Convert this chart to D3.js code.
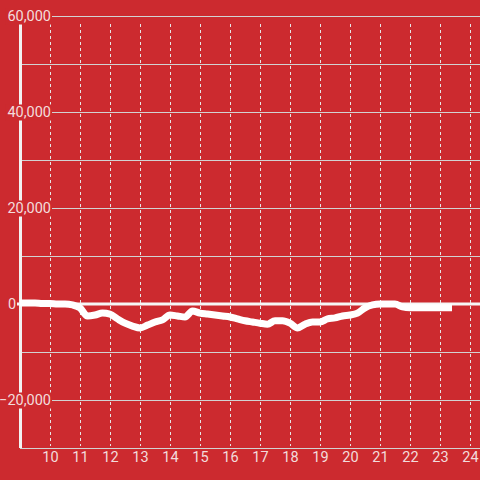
<!DOCTYPE html>
<html>
<head>
<meta charset="utf-8">
<script src="https://cdn.jsdelivr.net/npm/d3@7"></script>
<style>
html,body{margin:0;padding:0;background:#cc2a2f;}
svg{display:block;font-family:Roboto,"Liberation Sans",sans-serif;}
</style>
</head>
<body>
<svg id="chart" width="480" height="480"></svg>
<script>
const hours = [9,9.25,9.5,9.75,10,10.25,10.5,10.75,11,11.25,11.5,11.75,12,12.25,12.5,12.75,13,13.25,13.5,13.75,14,14.25,14.5,14.75,15,15.25,15.5,15.75,16,16.25,16.5,16.75,17,17.25,17.5,17.75,18,18.25,18.5,18.75,19,19.25,19.5,19.75,20,20.25,20.5,20.75,21,21.25,21.5,21.75,22,22.25,22.5,22.75,23,23.25,23.4];
const values = [200,200,200,100,100,0,0,-200,-800,-2500,-2300,-1900,-2100,-3100,-4000,-4600,-5000,-4400,-3750,-3300,-2300,-2500,-2700,-1450,-1900,-2100,-2300,-2500,-2700,-3100,-3500,-3750,-4000,-4200,-3500,-3500,-4000,-5000,-4200,-3750,-3750,-3100,-2900,-2500,-2300,-1900,-800,-200,0,0,0,-600,-800,-800,-800,-800,-800,-800,-800];
const xTicks = [10,11,12,13,14,15,16,17,18,19,20,21,22,23,24];
const yTicks = [-20000,0,20000,40000,60000];
const yGrid = [-30000,-20000,-10000,0,10000,20000,30000,40000,50000,60000];

const svg = d3.select("#chart");
const W = 480, H = 480;
svg.append("rect").attr("width",W).attr("height",H).attr("fill","#cc2a2f");

const x = d3.scaleLinear().domain([9,24]).range([20,470]);
const y = d3.scaleLinear().domain([-30000,60000]).range([448,16]);

// horizontal grid
svg.append("g").selectAll("line").data(yGrid).join("line")
  .attr("x1",20).attr("x2",W)
  .attr("y1",d=>y(d)+0.5).attr("y2",d=>y(d)+0.5)
  .attr("stroke","#d2d2d2").attr("stroke-width",1);

// vertical dashed grid
svg.append("g").selectAll("line").data(xTicks).join("line")
  .attr("x1",d=>x(d)+0.5).attr("x2",d=>x(d)+0.5)
  .attr("y1",24).attr("y2",446)
  .attr("stroke","#e6e6e6").attr("stroke-width",1).attr("stroke-dasharray","3,3");

// y axis line
svg.append("line").attr("x1",20.5).attr("x2",20.5).attr("y1",24).attr("y2",448)
  .attr("stroke","#f2f2f2").attr("stroke-width",3);

// zero line
svg.append("line").attr("x1",17).attr("x2",W).attr("y1",y(0)).attr("y2",y(0))
  .attr("stroke","#f6f6f6").attr("stroke-width",3);

// data line
const line = d3.line().x((d,i)=>x(hours[i])).y(d=>y(d)).curve(d3.curveMonotoneX);
svg.append("path").datum(values).attr("d",line)
  .attr("fill","none").attr("stroke","#ffffff").attr("stroke-width",7)
  .attr("stroke-linejoin","round").attr("stroke-linecap","butt");

// y axis labels
const yAxis = d3.axisLeft(y).tickValues(yTicks).tickSize(0).tickPadding(0)
  .tickFormat(d3.format(","));
const gy = svg.append("g").attr("transform","translate(52,0)").call(yAxis);
gy.select(".domain").remove();
gy.selectAll(".tick").each(function(d){
  const t = d3.select(this);
  const txt = t.select("text");
  txt.attr("fill","#f3dcdc").attr("font-size",14.5).attr("font-family","Roboto, sans-serif");
  if (d === 0) {
    txt.attr("text-anchor","start").attr("x",-44);
    return;
  }
  txt.attr("x",-1);
  const bb = txt.node().getBBox();
  t.insert("rect","text").attr("x",bb.x-2).attr("y",-8).attr("width",bb.width+3).attr("height",16)
    .attr("fill","#cc2a2f");
});

// x axis labels
const xAxis = d3.axisBottom(x).tickValues(xTicks).tickSize(0).tickPadding(0)
  .tickFormat(d3.format("d"));
const gx = svg.append("g").attr("transform","translate(0,452)").call(xAxis);
gx.select(".domain").remove();
gx.selectAll("text").attr("fill","#f3dcdc").attr("font-size",14.5).attr("font-family","Roboto, sans-serif");
</script>
</body>
</html>
